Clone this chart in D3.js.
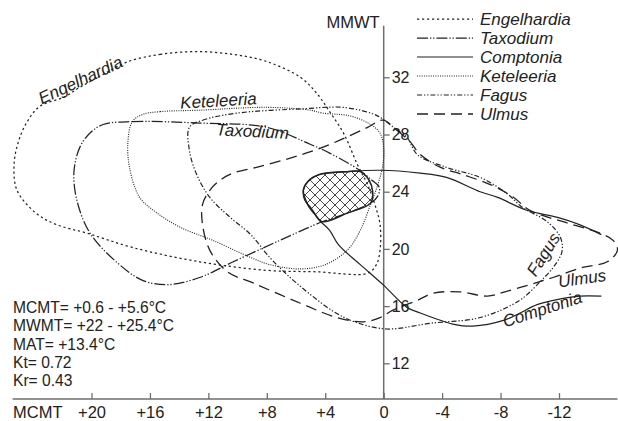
<!DOCTYPE html>
<html>
<head>
<meta charset="utf-8">
<script src="https://cdn.jsdelivr.net/npm/d3@7"></script>
<style>
  html, body { margin: 0; padding: 0; background: #fff; }
  svg { display: block; }
  text { font-family: "Liberation Sans", Arial, sans-serif; fill: #222; }
</style>
</head>
<body>
<svg id="chart" width="618" height="421"></svg>
<script>
// Climatic envelopes of the taxa: [MCMT, MMWT] in degrees C
const engelhardia = [
  [17.5,33.1],[15.3,33.6],[12.8,33.8],[10.3,33.6],[8.0,33.1],[5.7,32.0],[4.6,30.9],
  [3.7,29.6],[2.7,28.0],[1.8,25.9],[1.1,24.5],[0.6,23.1],[0.25,21.7],[0.25,19.9],
  [0.5,18.9],[1.1,18.3],[4.6,18.4],[8.0,18.5],[12.6,19.1],[17.2,20.1],[20.3,21.1],
  [22.4,21.7],[23.8,22.5],[25.1,24.1],[25.3,25.9],[25.0,27.5],[24.4,28.9],[23.5,30.0],
  [21.9,30.6],[20.8,31.3],[19.2,32.2]
];
const taxodium = [
  [19.2,28.7],[17.2,28.9],[12.6,28.8],[8.0,28.5],[5.0,27.3],[3.7,26.7],[1.8,25.6],
  [0.8,24.8],[0.3,24.3],[0.4,23.7],[0.9,23.2],[2.5,22.5],[4.2,21.9],[7.1,20.6],
  [10.3,19.1],[12.6,18.0],[14.8,17.5],[16.5,17.8],[18.2,19.0],[20.1,21.1],[21.0,23.4],
  [21.2,25.4],[20.8,27.1],[20.1,28.1]
];
const comptonia = [
  [-14.9,21.0],[-13.4,21.7],[-11.9,22.2],[-9.8,22.7],[-7.8,23.6],[-6.6,24.0],[-4.3,25.0],
  [-2.5,25.3],[0.25,25.5],[2.5,25.4],[4.4,25.2],[5.2,24.7],[5.5,24.1],[5.4,23.4],
  [5.0,22.9],[4.4,22.0],[3.7,21.3],[3.1,20.3],[1.6,18.9],[0.05,17.5],[-1.6,15.9],
  [-2.3,15.6],[-4.9,14.7],[-6.1,14.6],[-8.2,15.0],[-9.3,15.5],[-10.5,16.1],[-12.1,16.5],
  [-13.4,16.7],[-14.9,16.7]
];
const keteleeria = [
  [16.5,29.4],[15.3,29.6],[12.6,29.7],[8.0,29.9],[5.0,29.7],[4.2,29.5],[2.3,29.3],
  [0.9,28.7],[0.25,28.1],[0.0,27.1],[0.05,25.9],[0.4,24.5],[0.9,23.1],[1.6,21.3],
  [2.5,19.9],[4.0,18.9],[5.7,18.6],[7.8,18.9],[9.1,19.4],[11.7,20.6],[13.9,21.5],
  [15.5,22.5],[16.7,23.6],[17.4,25.7],[17.5,27.6],[17.2,28.9]
];
const fagus = [
  [13.3,28.5],[12.4,29.0],[10.0,29.5],[5.5,29.8],[2.8,29.9],[0.9,29.5],[0.25,29.2],
  [-0.8,28.4],[-1.6,27.8],[-2.3,26.6],[-4.3,25.7],[-6.6,25.0],[-8.4,23.9],[-9.5,22.9],
  [-11.2,21.9],[-12.1,20.8],[-12.2,19.8],[-11.6,18.7],[-10.7,17.7],[-9.3,16.4],
  [-6.6,15.2],[-3.2,14.8],[-0.2,14.4],[2.0,14.9],[3.4,15.6],[5.0,16.8],[6.4,18.0],
  [7.8,19.4],[9.1,21.0],[10.5,22.2],[11.9,23.6],[12.8,25.2],[13.3,26.9]
];
const ulmus = [
  [0.05,29.0],[-0.9,28.3],[-1.8,27.5],[-2.5,26.6],[-3.9,25.7],[-5.4,25.2],[-7.3,24.5],
  [-8.9,23.6],[-10.0,22.7],[-12.6,21.8],[-14.8,21.1],[-15.7,20.6],[-16.0,19.9],
  [-15.3,19.1],[-13.6,18.7],[-11.6,18.0],[-10.0,17.5],[-8.3,17.0],[-7.1,16.7],
  [-5.2,17.0],[-3.4,16.9],[-2.3,16.4],[-0.6,15.7],[0.25,15.2],[1.4,14.9],[3.2,15.2],
  [5.7,16.2],[8.9,17.6],[10.7,18.4],[11.9,19.9],[12.4,21.7],[12.4,23.1],[11.9,24.1],
  [11.2,24.8],[10.3,25.3],[8.7,25.7],[6.9,26.2],[5.0,26.8],[3.0,27.6],[1.1,28.5]
];
// Coexistence interval (hatched)
const coexistence = [
  [5.5,24.1],[5.2,24.7],[4.4,25.2],[2.5,25.4],[1.6,25.4],[1.0,24.8],[0.75,24.0],
  [0.9,23.2],[2.5,22.5],[4.2,21.9],[4.7,22.4],[5.2,23.1]
];

const taxa = ["Engelhardia","Taxodium","Comptonia","Keteleeria","Fagus","Ulmus"];
const mcmtTicks = [20,16,12,8,4,0,-4,-8,-12];
const mcmtTickLabels = ["+20","+16","+12","+8","+4","0","-4","-8","-12"];
const mmwtTicks = [12,16,20,24,28,32];
const statLines = [
  "MCMT= +0.6 - +5.6\u00B0C",
  "MWMT= +22 - +25.4\u00B0C",
  "MAT= +13.4\u00B0C",
  "Kt= 0.72",
  "Kr= 0.43"
];

const curves = {
  Engelhardia: {pts: engelhardia, closed: true,  dash: "2.2,2.8", w: 1.25},
  Taxodium:    {pts: taxodium,    closed: true,  dash: "11,2,1.3,1.8,1.3,2", w: 1.25},
  Comptonia:   {pts: comptonia,   closed: false, dash: null, w: 1.2},
  Keteleeria:  {pts: keteleeria,  closed: true,  dash: "1,1.3", w: 1.1},
  Fagus:       {pts: fagus,       closed: true,  dash: "5,2,1.3,1.8,1.3,2", w: 1.2},
  Ulmus:       {pts: ulmus,       closed: true,  dash: "11,6", w: 1.3}
};

const svg = d3.select("#chart");
svg.append("rect").attr("width", 618).attr("height", 421).attr("fill", "#fff");

const x = d3.scaleLinear().domain([20, -12]).range([91.5, 559]);
const y = d3.scaleLinear().domain([12, 32]).range([363.3, 77.3]);
const xSpan = [25.4, -16.0];
const ySpan = [9.5, 35.6];
const ink = "#222";
const axisInk = "#6e6e6e";

// cross-hatch pattern
const defs = svg.append("defs");
const pat = defs.append("pattern").attr("id", "hatch")
  .attr("patternUnits", "userSpaceOnUse").attr("width", 10).attr("height", 10);
pat.append("path")
  .attr("d", "M-1,1 l2,-2 M0,10 l10,-10 M9,11 l2,-2 M-1,9 l2,2 M0,0 l10,10 M9,-1 l2,2")
  .attr("stroke", "#333").attr("stroke-width", 0.9).attr("fill", "none");

// axes
const yAxisX = x(0);
svg.append("line").attr("x1", x(xSpan[0])).attr("x2", x(xSpan[1]))
  .attr("y1", y(ySpan[0])).attr("y2", y(ySpan[0]))
  .attr("stroke", axisInk).attr("stroke-width", 1.5);
svg.append("line").attr("x1", yAxisX).attr("x2", yAxisX)
  .attr("y1", y(ySpan[1])).attr("y2", y(ySpan[0]))
  .attr("stroke", axisInk).attr("stroke-width", 1.5);

const xAxis = d3.axisBottom(x).tickValues(mcmtTicks)
  .tickFormat((d, i) => mcmtTickLabels[i]).tickSizeInner(-6).tickSizeOuter(0).tickPadding(7);
const gx = svg.append("g").attr("transform", `translate(0,${y(ySpan[0])})`).call(xAxis);
gx.select(".domain").remove();
gx.selectAll(".tick line").attr("stroke", axisInk).attr("stroke-width", 1.3);
gx.selectAll(".tick text").attr("font-size", 16.5).attr("font-family", "Liberation Sans, Arial, sans-serif").attr("fill", ink);

const yAxis = d3.axisRight(y).tickValues(mmwtTicks).tickSizeInner(6).tickSizeOuter(0).tickPadding(2);
const gy = svg.append("g").attr("transform", `translate(${yAxisX},0)`).call(yAxis);
gy.select(".domain").remove();
gy.selectAll(".tick line").attr("stroke", axisInk).attr("stroke-width", 1.3);
gy.selectAll(".tick text").attr("font-size", 16).attr("font-family", "Liberation Sans, Arial, sans-serif").attr("fill", ink);

svg.append("text").attr("x", 13).attr("y", 417.5).attr("font-size", 16.5).text("MCMT");
svg.append("text").attr("x", yAxisX - 4).attr("y", 27.5).attr("text-anchor", "end")
  .attr("font-size", 16.5).text("MMWT");

// coexistence area
const closedLine = d3.line().x(d => x(d[0])).y(d => y(d[1])).curve(d3.curveCatmullRomClosed.alpha(0.5));
const openLine = d3.line().x(d => x(d[0])).y(d => y(d[1])).curve(d3.curveCatmullRom.alpha(0.5));

svg.append("path").attr("d", closedLine(coexistence))
  .attr("fill", "url(#hatch)").attr("stroke", ink).attr("stroke-width", 1.5);

// envelopes
taxa.forEach(name => {
  const c = curves[name];
  svg.append("path")
    .attr("d", (c.closed ? closedLine : openLine)(c.pts))
    .attr("fill", "none").attr("stroke", ink).attr("stroke-width", c.w)
    .attr("stroke-dasharray", c.dash)
    .attr("stroke-linejoin", "round");
});

// curve labels
const curveLabels = [
  {name: "Engelhardia", at: [23.4, 30.1], rot: -25},
  {name: "Keteleeria",  at: [13.9, 29.8], rot: -3.5},
  {name: "Taxodium",    at: [11.5, 27.95], rot: 3},
  {name: "Fagus",       at: [-10.4, 18.0], rot: -58},
  {name: "Ulmus",       at: [-12.0, 17.3], rot: -8},
  {name: "Comptonia",   at: [-8.3, 14.5], rot: -18}
];
curveLabels.forEach(l => {
  svg.append("text")
    .attr("transform", `translate(${x(l.at[0])},${y(l.at[1])}) rotate(${l.rot})`)
    .attr("font-size", 17).attr("font-style", "italic").text(l.name);
});

// legend
const legend = svg.append("g");
taxa.forEach((name, i) => {
  const by = 25 + i * 19;
  const c = curves[name];
  legend.append("line").attr("x1", 417).attr("x2", 473)
    .attr("y1", by - 6).attr("y2", by - 6)
    .attr("stroke", ink).attr("stroke-width", c.w).attr("stroke-dasharray", c.dash);
  legend.append("text").attr("x", 480).attr("y", by)
    .attr("font-size", 17).attr("font-style", "italic").text(name);
});

// summary
statLines.forEach((s, i) => {
  svg.append("text").attr("x", 13).attr("y", 313 + i * 18.3)
    .attr("font-size", 15.6).text(s);
});
</script>
</body>
</html>
